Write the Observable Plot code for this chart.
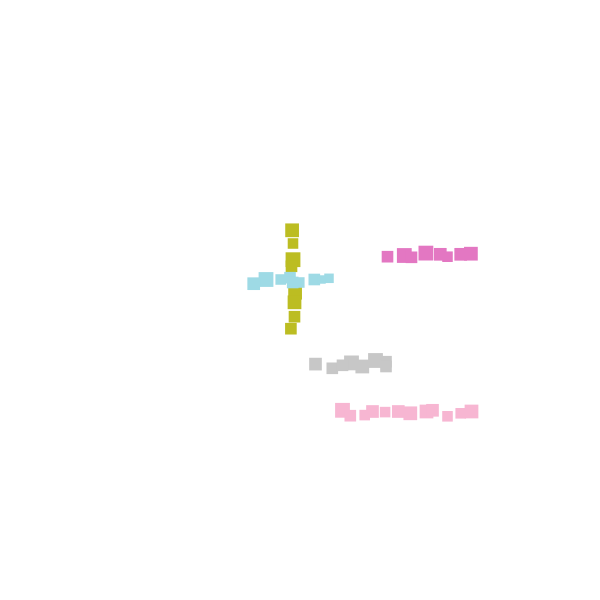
<!DOCTYPE html>
<html>
<head>
<meta charset="utf-8">
<script src="https://cdn.jsdelivr.net/npm/d3@7"></script>
<script src="https://cdn.jsdelivr.net/npm/@observablehq/plot@0.6"></script>
<style>
  html, body { margin: 0; padding: 0; background: #fff; }
</style>
</head>
<body>
<div id="chart"></div>
<script>
// Series (x, y, size)
const groups = ["A", "B", "C", "D", "E"];
const colors = ["#bcbd22", "#9edae5", "#e377c2", "#c7c7c7", "#f7b6d2"];

const aX = [48.6, 48.75, 48.75, 48.5, 49.1, 49.0, 49.0, 48.4];
const aY = [61.7, 59.5, 56.8, 55.7, 51.3, 49.7, 47.3, 45.3];
const aS = [13, 10, 14, 11, 13, 13, 11, 11];

const bX = [42.2, 44.25, 46.7, 48.25, 48.7, 49.8, 52.3, 53.5, 54.75];
const bY = [52.8, 53.5, 53.5, 53.8, 53.0, 53.0, 53.5, 53.5, 53.7];
const bS = [12, 14, 10, 11, 11, 10, 11, 8, 9];

const cX = [64.5, 67.3, 68.5, 70.9, 73.3, 74.5, 76.7, 78.4];
const cY = [57.3, 57.5, 57.2, 57.9, 57.7, 57.3, 57.7, 57.8];
const cS = [11, 14, 11, 14, 12, 10, 12, 13];

const dX = [52.5, 55.3, 57.0, 58.5, 60.3, 62.5, 64.25, 64.25];
const dY = [39.4, 38.7, 39.2, 39.6, 39.0, 40.0, 39.8, 39.0];
const dS = [12, 11, 11, 14, 13, 14, 11, 11];

const eX = [57.0, 58.3, 60.7, 62.0, 64.1, 66.3, 68.3, 71.0, 72.0, 74.5, 76.7, 78.5];
const eY = [31.7, 30.8, 30.9, 31.5, 31.4, 31.5, 31.2, 31.5, 31.7, 30.7, 31.2, 31.5];
const eS = [14, 11, 10, 12, 10, 12, 13, 13, 12, 10, 10, 13];

const series = [[aX, aY, aS], [bX, bY, bS], [cX, cY, cS], [dX, dY, dS], [eX, eY, eS]];
const data = series.flatMap(([xs, ys, ss], gi) =>
  xs.map((x, i) => ({group: groups[gi], x, y: ys[i], s: ss[i]})));

const chart = Plot.plot({
  width: 600,
  height: 600,
  margin: 0,
  x: {domain: [0, 100], axis: null},
  y: {domain: [0, 100], axis: null},
  r: {type: "linear", domain: [0, 14], range: [0, 14.8 / Math.sqrt(Math.PI)]},
  color: {domain: groups, range: colors},
  marks: [
    Plot.dot(data, {x: "x", y: "y", r: "s", symbol: "square", fill: "group", stroke: null})
  ]
});
document.getElementById("chart").appendChild(chart);
</script>
</body>
</html>
